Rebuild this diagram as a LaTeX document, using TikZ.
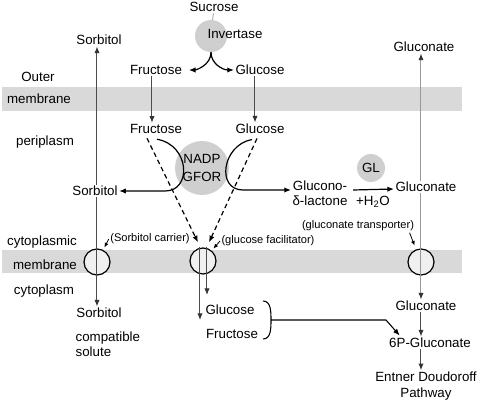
\documentclass[tikz,border=0pt]{standalone}
\usepackage{fontspec}
\setmainfont{Liberation Sans}
\usetikzlibrary{arrows.meta,positioning,calc}

\begin{document}
\begin{tikzpicture}[
  x=0.75pt, y=-0.75pt,
  font=\fontsize{10}{11.5}\selectfont,
  txt/.style={inner sep=1pt, align=center},
  note/.style={inner sep=1pt, font=\fontsize{8.3}{10}\selectfont},
  arr/.style={-{Latex[length=5pt,width=4pt]}, line width=0.9pt},
  darr/.style={arr, dash pattern=on 3.5pt off 2.5pt},
  garr/.style={-{Latex[length=5pt,width=4pt,color=black!80]}, line width=0.75pt},
  sarr/.style={-{Latex[length=3.5pt,width=3pt]}, line width=0.6pt, shorten >=2pt},
  enz/.style={circle, fill=gray!38, inner sep=0pt},
  port/.style={circle, draw, line width=0.9pt, fill=gray!12, minimum size=19.5pt, inner sep=0pt}
]
\useasboundingbox (0,0) rectangle (480,410);
\fill[gray!30] (2,87) rectangle (462,111);
\fill[gray!30] (2,250) rectangle (462,273);

\node[txt] (outer) at (38,77) {Outer};
\node[txt] (omem) at (39,99) {membrane};
\node[txt] (peri) at (45,142) {periplasm};
\node[txt] (cytm) at (42,242) {cytoplasmic};
\node[txt] (cmem) at (45,265) {membrane};
\node[txt] (cyto) at (44,291) {cytoplasm};

\node[txt] (suc) at (214,7) {Sucrose};
\node[enz, minimum size=24pt] (inv) at (211,36) {};
\node[txt] (invt) at (235,34) {Invertase};
\node[txt] (fruO) at (156,70) {Fructose};
\node[txt] (glcO) at (260,70) {Glucose};
\node[txt] (sorbT) at (99,40) {Sorbitol};
\node[txt] (gluT) at (424,47) {Gluconate};

\node[txt] (fruP) at (156,129) {Fructose};
\node[txt] (glcP) at (260,129) {Glucose};
\node[enz, minimum size=40.5pt, font=\fontsize{10}{13.5}\selectfont, align=center] (gfor) at (202,168) {NADP\\GFOR};
\node[txt] (sorbP) at (95,191) {Sorbitol};
\node[txt] (lact) at (320,193) {Glucono-\\δ-lactone};
\node[enz, minimum size=21pt] (gl) at (371,168) {GL};
\node[txt] (h2o) at (373,202) {+H\textsubscript{2}O};
\node[txt] (gluP) at (426,187) {Gluconate};

\node[port] (sorbCar) at (97,262) {};
\node[port] (facil) at (203,261) {};
\node[port] (trans) at (421,262) {};
\node[note] (sclab) at (150,239) {(Sorbitol carrier)};
\node[note] (gflab) at (268,241) {(glucose facilitator)};
\node[note] (gtlab) at (358,226) {(gluconate transporter)};

\node[txt] (sorbC) at (99,313) {Sorbitol};
\node[txt, align=left, anchor=west] (compat) at (74,344) {compatible\\solute};
\node[txt] (glcC) at (230,310) {Glucose};
\node[txt] (fruC) at (232,334) {Fructose};
\node[txt] (gluC) at (426,306) {Gluconate};
\node[txt] (sixP) at (430,343) {6P-Gluconate};
\node[txt, font=\fontsize{10}{12}\selectfont] (ed) at (426,386) {Entner Doudoroff\\Pathway};

\coordinate (glcTip) at (207,295);
\coordinate (fruTip) at (200,320);
\coordinate (brc) at (271,320);
\coordinate (bend) at (386,320);

\draw[line width=0.5pt, gray] (suc) -- (inv);
\draw[arr, shorten >=4pt] (inv.south) to[out=-90, in=0] (fruO.east);
\draw[arr] (inv.south) to[out=-90, in=180] (glcO.west);
\draw[garr, black!70] ($(fruO.south)+(-4,0)$) -- ($(fruP.north)+(-4,0)$);
\draw[garr, black!70] ($(glcO.south)+(-5,0)$) -- ($(glcP.north)+(-5,0)$);

\draw[garr, black!70] (sorbCar |- sorbP.north) -- (sorbCar |- sorbT.south);
\draw[garr, black!70] (sorbCar |- sorbP.south) -- (sorbCar |- sorbC.north);
\draw[garr, black!40] (trans |- gluP.north) -- (trans |- gluT.south);
\draw[garr, black!40] (trans |- gluP.south) -- (trans |- gluC.north);
\draw[garr, black!70] (trans |- gluC.south) -- (trans |- sixP.north);
\draw[garr, black!70] (trans |- sixP.south) -- (trans |- ed.north);

\draw[arr] ($(fruP.south)+(1,4)$) .. controls (190,145) and (192,191) .. ($(sorbP.east)+(46,0)$) -- (sorbP.east);
\draw[arr] ($(glcP.south)+(-8,4)$) .. controls (222,145) and (216,190) .. ($(lact.west)+(-48,-3)$) -- ($(lact.west)+(0,-3)$);
\draw[darr] ($(fruP.south)+(-9,3)$) -- ($(facil.north)+(-5,-5)$);
\draw[darr] ($(glcP.south)+(-3,3)$) -- ($(facil.north)+(6,-5)$);
\draw[arr] ($(lact.east)+(4,-3)$) -- ($(gluP.west)+(0,2)$);

\draw[garr, black!70] (facil.north -| fruTip) -- (fruTip);
\draw[garr, black!70] (facil.north -| glcTip) -- (glcTip);

\draw[sarr] (sclab.west) -- (sorbCar);
\draw[sarr] (gflab.west) -- (facil);
\draw[sarr, shorten >=3pt] ($(gtlab.south east)+(-6,0)$) -- (trans);

\draw[line width=0.8pt] ($(brc)+(-8,-19)$) to[out=0, in=90] (brc) to[out=-90, in=0] ($(brc)+(-8,19)$);
\draw[arr, line width=0.8pt] (brc) -- (bend) -- ($(sixP.north west)+(12,-1)$);
\end{tikzpicture}
\end{document}
